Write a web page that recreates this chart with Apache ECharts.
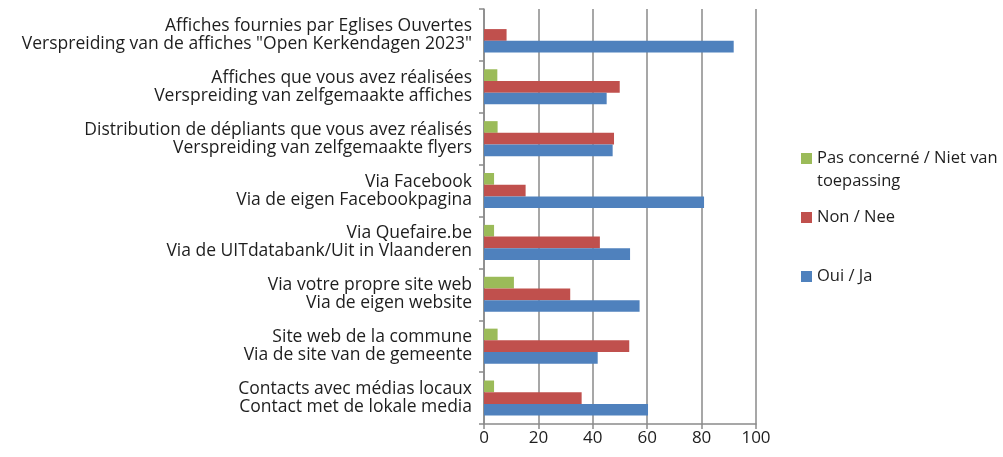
<!DOCTYPE html>
<html>
<head>
<meta charset="utf-8">
<script src="https://cdn.jsdelivr.net/npm/echarts@6/dist/echarts.min.js"></script>
<style>
  html, body { margin: 0; padding: 0; background: #fff; }
  #main { width: 1003px; height: 457px; }
</style>
</head>
<body>
<div id="main"></div>
<script>
// categories, top to bottom (FR \n NL)
var categories = [
  'Affiches fournies par Eglises Ouvertes\nVerspreiding van de affiches "Open Kerkendagen 2023"',
  'Affiches que vous avez réalisées\nVerspreiding van zelfgemaakte affiches',
  'Distribution de dépliants que vous avez réalisés\nVerspreiding van zelfgemaakte flyers',
  'Via Facebook\nVia de eigen Facebookpagina',
  'Via Quefaire.be\nVia de UITdatabank/Uit in Vlaanderen',
  'Via votre propre site web\nVia de eigen website',
  'Site web de la commune\nVia de site van de gemeente',
  'Contacts avec médias locaux\nContact met de lokale media'
];

var seriesNames = ['Pas concerné / Niet van toepassing', 'Non / Nee', 'Oui / Ja'];

// percentages
var pasConcerne = [0, 4.9, 5, 3.7, 3.7, 11, 5, 3.7];
var non = [8.3, 49.9, 47.8, 15.3, 42.6, 31.7, 53.4, 35.9];
var oui = [91.8, 45.1, 47.3, 80.9, 53.7, 57.2, 41.8, 60.3];

var xTicks = [0, 20, 40, 60, 80, 100];

var colors = ['#9BBB59', '#C0504D', '#4F81BD'];
var font = '"Open Sans", "Noto Sans", sans-serif';
var grey = '#8a8a8a';
var txt = '#1e1e1e';

var myChart = echarts.init(document.getElementById('main'));

function legendFor(i, top) {
  return {
    show: true,
    data: [seriesNames[i]],
    left: 801,
    top: top,
    padding: 0,
    itemWidth: 11,
    itemHeight: 11,
    itemGap: 6,
    icon: 'rect',
    formatter: function (name) {
      // the wrapped second line of the first item is drawn separately
      return name === seriesNames[0] ? 'Pas concerné / Niet van' : name;
    },
    textStyle: { fontFamily: font, fontSize: 16.5, color: txt, padding: [0, 0, 0, 0] }
  };
}

var option = {
  animation: false,
  color: colors,
  textStyle: { fontFamily: font },
  grid: { left: 484, right: 247, top: 9, bottom: 33, containLabel: false },
  legend: [legendFor(0, 150), legendFor(1, 209), legendFor(2, 268)],
  graphic: [{
    type: 'text',
    left: 817,
    top: 173,
    style: { text: 'toepassing', fontFamily: font, fontSize: 16.5, fill: txt }
  }],
  xAxis: {
    type: 'value',
    min: xTicks[0],
    max: xTicks[xTicks.length - 1],
    interval: 20,
    axisLine: { show: true, lineStyle: { color: grey, width: 1.5 } },
    axisTick: { show: true, length: 5, lineStyle: { color: grey, width: 1.5 } },
    axisLabel: { fontFamily: font, fontSize: 17, color: txt, margin: 6 },
    splitLine: { show: true, lineStyle: { color: grey, width: 1.5 } }
  },
  yAxis: {
    type: 'category',
    inverse: true,
    data: categories,
    axisLine: { show: true, lineStyle: { color: grey, width: 1.5 } },
    axisTick: { show: true, length: 5, lineStyle: { color: grey, width: 1.5 } },
    axisLabel: {
      fontFamily: font, fontSize: 17.5, color: txt, margin: 12,
      lineHeight: 18, align: 'right', padding: [0, 0, 5, 0]
    }
  },
  series: [
    { name: seriesNames[0], type: 'bar', data: pasConcerne, barWidth: 11.7, barGap: '0%' },
    { name: seriesNames[1], type: 'bar', data: non, barWidth: 11.7, barGap: '0%' },
    { name: seriesNames[2], type: 'bar', data: oui, barWidth: 11.7, barGap: '0%' }
  ]
};

myChart.setOption(option);
</script>
</body>
</html>
